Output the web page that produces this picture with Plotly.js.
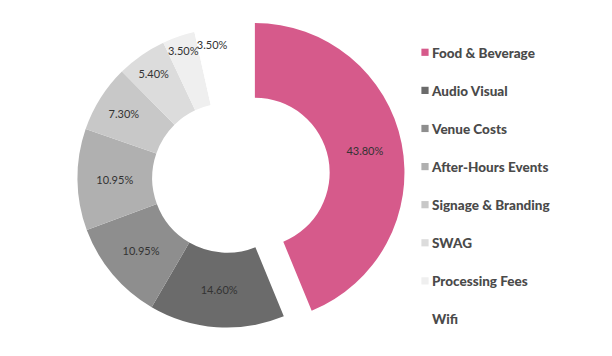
<!DOCTYPE html>
<html>
<head>
<meta charset="utf-8">
<script src="https://cdn.plot.ly/plotly-3.0.1.min.js"></script>
<style>
html,body{margin:0;padding:0;background:#fff;}
#chart{width:612px;height:356px;}
#chart .legend .legendpoints path{transform:translate(33px,0px) scale(0.6);}
</style>
</head>
<body>
<div id="chart"></div>
<script>
var categories = ["Food & Beverage", "Audio Visual", "Venue Costs", "After-Hours Events", "Signage & Branding", "SWAG", "Processing Fees", "Wifi"];
var shares = [43.80, 14.60, 10.95, 10.95, 7.30, 5.40, 3.50, 3.50];
var sliceColors = ["#D65A8B", "#6B6B6B", "#8E8E8E", "#B0B0B0", "#C8C8C8", "#DCDCDC", "#EFEFEF", "#FFFFFF"];
var pulls = [0.19, 0, 0, 0, 0, 0, 0, 0];

var legendLabels = categories.map(function(c){ return c + "<br> "; });

var data = [{
  type: "pie",
  values: shares,
  labels: legendLabels,
  marker: {colors: sliceColors, line: {width: 0}},
  hole: 0.5,
  pull: pulls,
  sort: false,
  direction: "clockwise",
  rotation: 0,
  texttemplate: "%{percent:.2%}",
  textposition: "inside",
  insidetextorientation: "horizontal",
  textfont: {family: "Lato, 'Open Sans', sans-serif", size: 11, color: "#333333"},
  hoverinfo: "label+percent",
  domain: {x: [(227-180)/612, (227+180)/612], y: [0, 1]}
}];

var layout = {
  width: 612,
  height: 356,
  margin: {l: 0, r: 0, t: 0, b: 0},
  paper_bgcolor: "#ffffff",
  plot_bgcolor: "#ffffff",
  showlegend: true,
  uniformtext: {minsize: 11, mode: "show"},
  legend: {
    x: 392/612,
    xanchor: "left",
    y: 1 - 37/356,
    yanchor: "top",
    valign: "top",
    font: {family: "Lato, 'Open Sans', sans-serif", size: 13.5, color: "#4A4A4A", weight: 900},
    bgcolor: "rgba(0,0,0,0)"
  }
};

Plotly.newPlot("chart", data, layout, {displayModeBar: false, staticPlot: true});
</script>
</body>
</html>
